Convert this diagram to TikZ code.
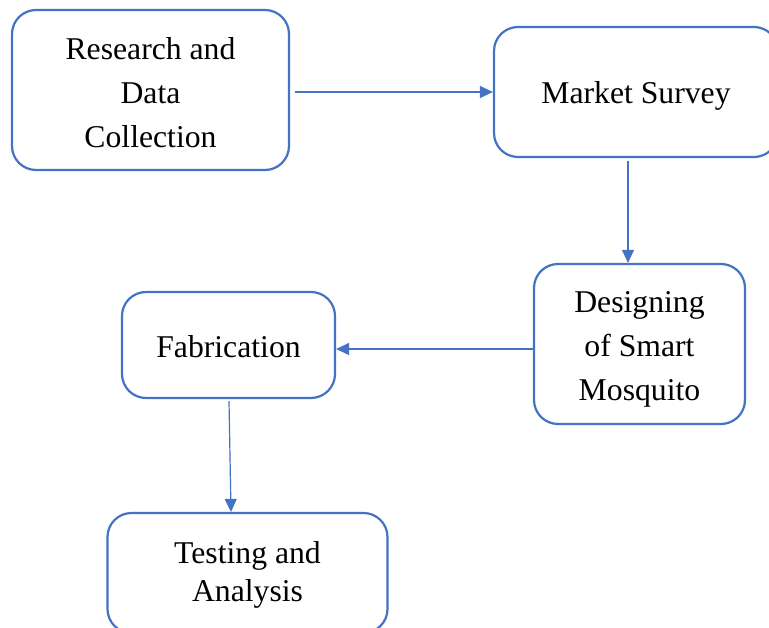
\documentclass[tikz,border=0pt]{standalone}
\usepackage{fontspec}
\setmainfont{Liberation Serif}
\usetikzlibrary{arrows.meta}
\definecolor{wordblue}{RGB}{68,114,196}
\newcommand{\upstrut}[1]{\rule{0pt}{#1}}
\tikzset{
  stepbox/.style={draw=wordblue, line width=2.2pt, rounded corners=24pt,
    rectangle, inner sep=0pt, align=center, text=black,
    font=\fontsize{31.7}{44}\selectfont},
  arr/.style={draw=wordblue, line width=1.2pt,
    -{Triangle[length=13pt,width=12pt]}}
}
\begin{document}
\begin{tikzpicture}[x=1pt,y=-1pt]
\useasboundingbox (0,0) rectangle (769,628);
\clip (0,0) rectangle (769,628);
\fill[white] (0,0) rectangle (769,628);
\node[stepbox, minimum width=277pt, minimum height=160pt] (r) at (150.5,90) {\upstrut{27pt}Research and\\Data\\Collection};
\node[stepbox, minimum width=284pt, minimum height=130pt] (m) at (636,92) {\upstrut{30pt}Market Survey};
\node[stepbox, minimum width=211pt, minimum height=160pt] (d) at (639.5,344) {\upstrut{32pt}Designing\\of Smart\\Mosquito};
\node[stepbox, minimum width=213pt, minimum height=106pt] (f) at (228.5,345) {\upstrut{26pt}Fabrication};
\node[stepbox, minimum width=280pt, minimum height=120pt, font=\fontsize{31.7}{38}\selectfont] (t) at (247.5,573) {\upstrut{26pt}Testing and\\Analysis};
\coordinate (c1) at (628,161);
\coordinate (c2) at (534,349);
\draw[arr] ([xshift=5pt]r.east |- m.west) -- (m.west);
\draw[arr] (c1) -- (c1 |- d.north);
\draw[arr] (c2) -- (c2 -| f.east);
\draw[arr] ([xshift=0.5pt,yshift=-2pt]f.south) -- ([xshift=-16.5pt]t.north);
\end{tikzpicture}
\end{document}
